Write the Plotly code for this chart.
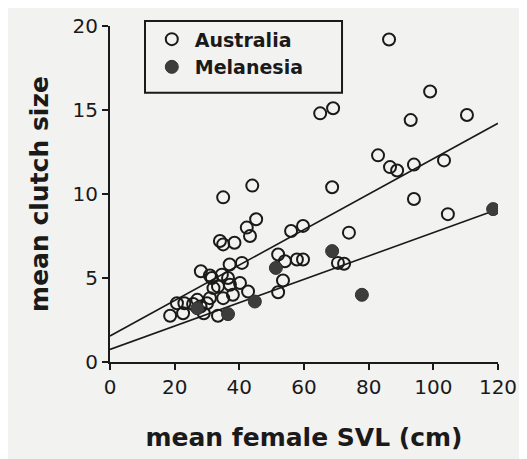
import plotly.graph_objects as go

# Australia (open circles)
aus_svl = [86.3, 99, 65, 69, 110.4, 93, 82.9, 86.6, 88.8, 94, 103.3, 68.7, 94, 104.5,
           44, 35, 73.9, 56, 59.7, 45.2, 42.3, 43.3, 34, 35, 38.5, 40.8, 52, 54.1,
           57.8, 59.7, 70.5, 72.4, 53.5, 52, 37, 28.1, 30.9, 31.5, 34.6, 33.4, 35,
           30.9, 40.2, 42.7, 37.1, 38, 18.6, 22.6, 20.7, 23, 25.7, 28, 30, 33.4,
           29, 36.5, 27, 32]
aus_clutch = [19.2, 16.1, 14.8, 15.1, 14.7, 14.4, 12.3, 11.6, 11.4, 11.75, 12.0, 10.4,
              9.7, 8.8, 10.5, 9.8, 7.7, 7.8, 8.1, 8.5, 8.0, 7.5, 7.2, 7.0, 7.1, 5.9,
              6.4, 6.0, 6.1, 6.1, 5.9, 5.85, 4.85, 4.15, 5.8, 5.4, 5.15, 5.0, 5.2,
              4.5, 3.8, 3.8, 4.7, 4.2, 4.6, 4.0, 2.75, 2.9, 3.5, 3.5, 3.45, 3.3, 3.5,
              2.75, 2.9, 5.0, 3.7, 4.4]

# Melanesia (filled circles)
mel_svl = [36.5, 44.8, 51.3, 68.7, 77.9, 118.5, 27]
mel_clutch = [2.85, 3.6, 5.6, 6.6, 4.0, 9.1, 3.2]

# Fitted regression lines (intercept, slope) and x-extent
aus_fit = (1.55, 0.1055)
aus_fit_range = (0, 120)
mel_fit = (0.75, 0.0695)
mel_fit_range = (0, 118.5)

x_ticks = [0, 20, 40, 60, 80, 100, 120]
y_ticks = [0, 5, 10, 15, 20]

FONT = "DejaVu Sans, Verdana, sans-serif"
INK = "#1a1a1a"
BG = "#f2f2f0"

fig = go.Figure()

def fit_line(fit, rng):
    xs = list(rng)
    ys = [fit[0] + fit[1] * x for x in xs]
    return xs, ys

for fit, rng in ((aus_fit, aus_fit_range), (mel_fit, mel_fit_range)):
    xs, ys = fit_line(fit, rng)
    fig.add_trace(go.Scatter(x=xs, y=ys, mode="lines", showlegend=False,
                             line=dict(color=INK, width=1.6), hoverinfo="skip"))

fig.add_trace(go.Scatter(
    x=aus_svl, y=aus_clutch, mode="markers", name="Australia",
    marker=dict(symbol="circle-open", size=12, color=INK, line=dict(width=2, color=INK))))
fig.add_trace(go.Scatter(
    x=mel_svl, y=mel_clutch, mode="markers", name="Melanesia",
    marker=dict(symbol="circle", size=13, color="#3d3d3d", line=dict(width=1, color="#333333"))))

# legend frame
fig.add_shape(type="rect", xref="paper", yref="paper",
              x0=0.0902, x1=0.598, y0=0.801, y1=1.0146,
              line=dict(color=INK, width=2), fillcolor="rgba(0,0,0,0)", layer="above")

fig.update_layout(
    width=527, height=459,
    margin=dict(l=102, r=37, t=12, b=105),
    paper_bgcolor=BG, plot_bgcolor=BG,
    font=dict(family=FONT, size=20, color=INK),
    legend=dict(
        x=0.10, y=1.017, xanchor="left", yanchor="top",
        borderwidth=0, bgcolor="rgba(0,0,0,0)",
        font=dict(family=FONT, size=19, color=INK, weight="bold"),
        itemsizing="trace", tracegroupgap=0, itemwidth=36,
    ),
    xaxis=dict(
        range=[0, 120], tickvals=x_ticks, ticktext=[str(v) for v in x_ticks],
        showgrid=False, zeroline=False, showline=True, linecolor=INK, linewidth=2,
        ticks="outside", ticklen=6, tickwidth=2, tickcolor=INK,
        tickfont=dict(size=20), fixedrange=True, automargin=False,
        title=dict(text="mean female SVL (cm)", standoff=30,
                   font=dict(size=25, weight="bold")),
    ),
    yaxis=dict(
        range=[0, 20], tickvals=y_ticks, ticktext=[str(v) for v in y_ticks],
        showgrid=False, zeroline=False, showline=True, linecolor=INK, linewidth=2,
        ticks="outside", ticklen=6, tickwidth=2, tickcolor=INK,
        tickfont=dict(size=20), fixedrange=True, automargin=False,
        title=dict(text="mean clutch size", standoff=17,
                   font=dict(size=25, weight="bold")),
    ),
)

fig.write_html("out.html")
